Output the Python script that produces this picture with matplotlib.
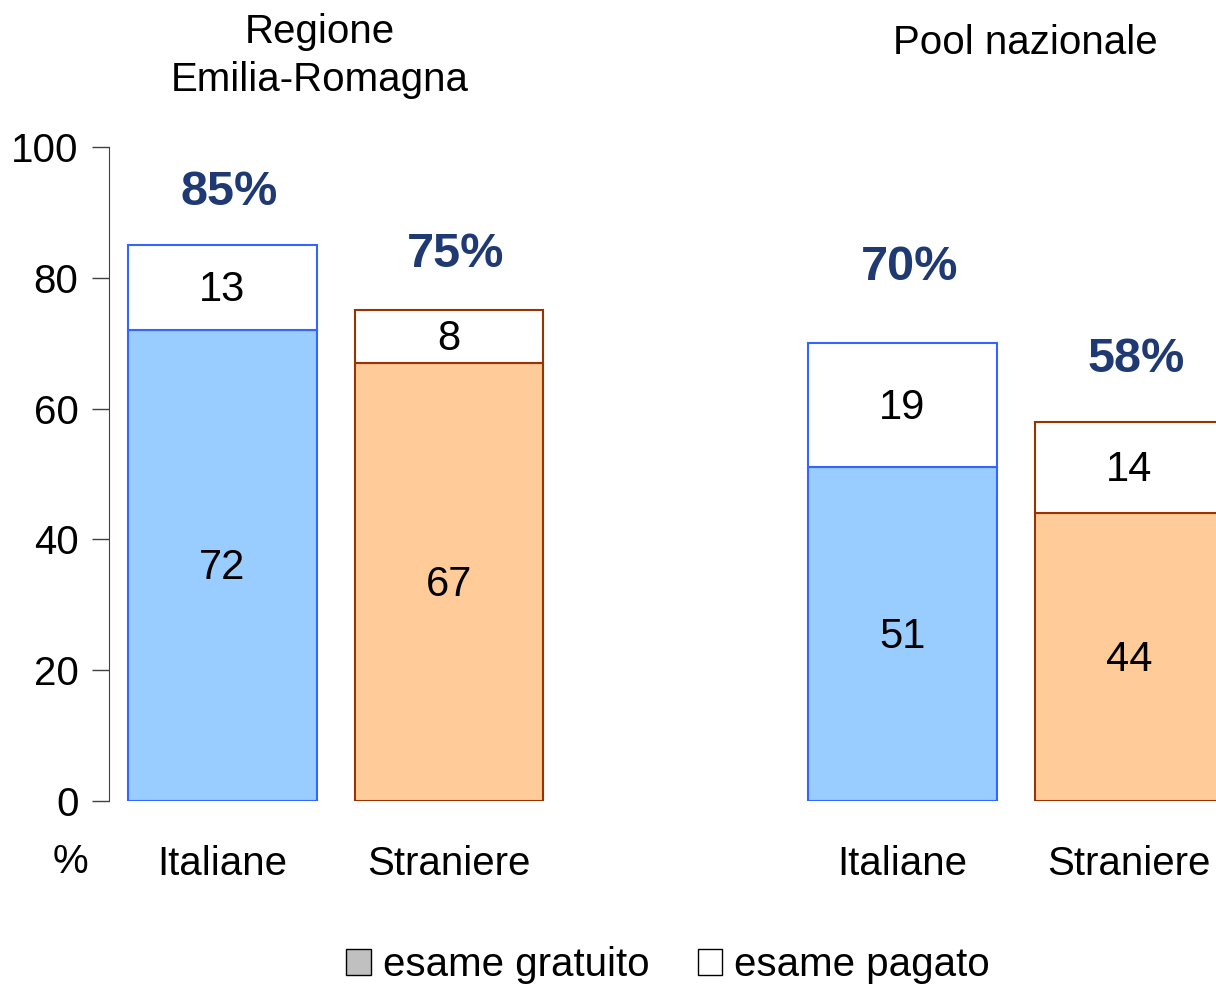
import matplotlib.pyplot as plt
from matplotlib.patches import Patch

plt.rcParams["font.family"] = ["Liberation Sans", "DejaVu Sans"]

# data
categories = ["Italiane", "Straniere", "Italiane", "Straniere"]
groups = ["Regione\nEmilia-Romagna", "Pool nazionale"]
gratuito = [72, 67, 51, 44]
pagato = [13, 8, 19, 14]
totals = [85, 75, 70, 58]

x_pos = [0, 1, 3, 4]
fills = ["#99CCFF", "#FFCC99", "#99CCFF", "#FFCC99"]
edges = ["#3366FF", "#993300", "#3366FF", "#993300"]
pct_offset = [8.0, 8.5, 11.5, 9.5]

fig = plt.figure(figsize=(12.16, 9.85), dpi=100)
ax = fig.add_axes([109 / 1216, 184 / 985, 1 - 109 / 1216, 654 / 985])

width = 0.833
for i in range(len(x_pos)):
    ax.bar(x_pos[i], gratuito[i], width, color=fills[i], edgecolor=edges[i], linewidth=1.5, zorder=2)
    ax.bar(x_pos[i], pagato[i], width, bottom=gratuito[i], color="white",
           edgecolor=edges[i], linewidth=1.5, zorder=2)
    ax.text(x_pos[i], gratuito[i] / 2 - 0.4, str(gratuito[i]), ha="center", va="center", fontsize=30)
    ax.text(x_pos[i], gratuito[i] + pagato[i] / 2 - 0.4, str(pagato[i]), ha="center", va="center",
            fontsize=30)
    ax.text(x_pos[i] + 0.03, totals[i] + pct_offset[i], f"{totals[i]}%", ha="center", va="center",
            fontsize=35, fontweight="bold", color="#1F3A73")

ax.set_xlim(-0.5, 4.383)
ax.set_ylim(0, 100)
ax.set_yticks([0, 20, 40, 60, 80, 100])
ax.tick_params(axis="y", labelsize=29, length=12, width=1, color="#404040", pad=10)
ax.set_xticks(x_pos)
ax.set_xticklabels(categories)
ax.tick_params(axis="x", labelsize=29, length=0, pad=32)
for s in ["top", "right", "bottom"]:
    ax.spines[s].set_visible(False)
ax.spines["left"].set_color("#404040")

fig.text(70 / 1216, 1 - 862 / 985, "%", ha="center", va="center", fontsize=29)
fig.text(320 / 1216, 1 - 56 / 985, groups[0], ha="center", va="center", fontsize=29, linespacing=1.35)
fig.text(1025 / 1216, 1 - 43 / 985, groups[1], ha="center", va="center", fontsize=29)

handles = [Patch(facecolor="#C0C0C0", edgecolor="black", label="esame gratuito"),
           Patch(facecolor="white", edgecolor="black", label="esame pagato")]
fig.legend(handles=handles, loc="center", bbox_to_anchor=(668 / 1216, 1 - 965 / 985), ncol=2,
           frameon=False, fontsize=29, handlelength=0.6, handleheight=0.6,
           handletextpad=0.3, columnspacing=1.2)

fig.savefig("out.png", dpi=100)
